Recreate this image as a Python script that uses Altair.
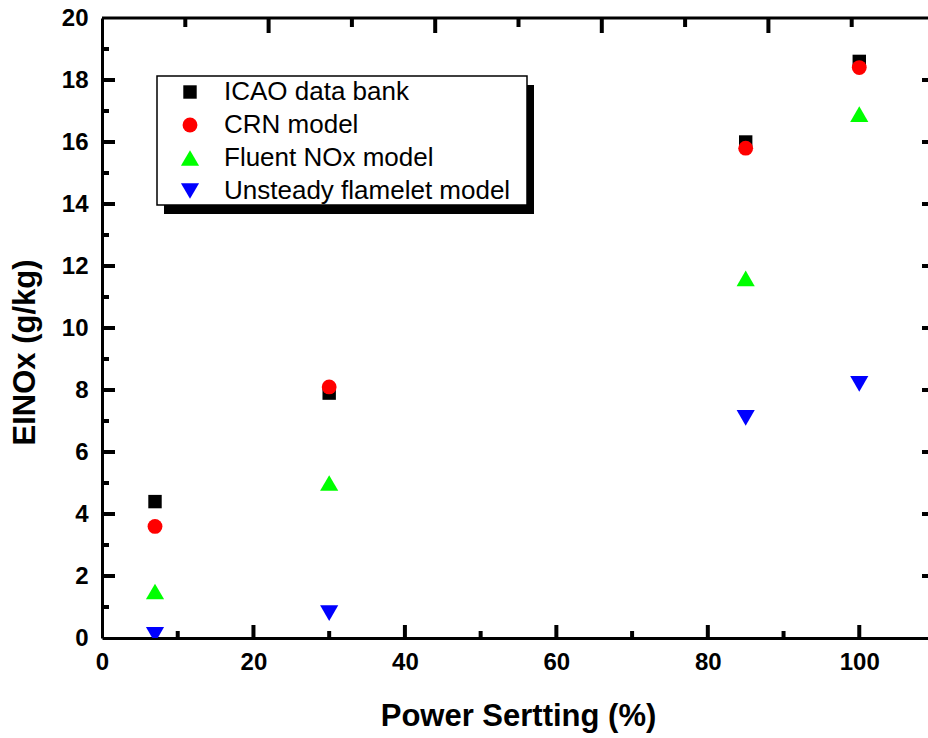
import altair as alt
import pandas as pd

# ---- data ----
power = [7, 30, 85, 100]
icao = [4.4, 7.9, 16.0, 18.6]
crn = [3.6, 8.1, 15.8, 18.4]
fluent = [1.5, 5.0, 11.6, 16.9]
unsteady = [0.1, 0.8, 7.1, 8.2]

series_names = ["ICAO data bank", "CRN model", "Fluent NOx model", "Unsteady flamelet model"]
series_colors = ["#000000", "#ff0000", "#00ff00", "#0000ff"]
series_shapes = ["square", "circle", "triangle-up", "triangle-down"]
series_sizes = [180, 220, 330, 330]

x_labels = [0, 20, 40, 60, 80, 100]
y_labels = [0, 2, 4, 6, 8, 10, 12, 14, 16, 18, 20]
x_major = [20, 40, 60, 80, 100]
x_minor = [10, 30, 50, 70, 90]
top_major = [22, 44, 66, 88]
top_minor = [11, 33, 55, 77, 99]
y_major = [2, 4, 6, 8, 10, 12, 14, 16, 18]
y_minor = [1, 3, 5, 7, 9, 11, 13, 15, 17, 19]

rows = []
for name, vals in zip(series_names, [icao, crn, fluent, unsteady]):
    for p, v in zip(power, vals):
        rows.append({"power": p, "einox": v, "series": name})
df = pd.DataFrame(rows)

FONT = "Liberation Sans"
W_FULL = 833  # pixel length of the 0..110 x range (runs past the window)
H = 620

xscale = alt.Scale(domain=[0, 110], range=[0, W_FULL], nice=False, zero=False)
yscale = alt.Scale(domain=[0, 20], nice=False, zero=False)

xaxis = alt.Axis(
    values=x_labels, format="d", ticks=False, grid=False,
    domainColor="black", domainWidth=3,
    labelFont=FONT, labelFontWeight="bold", labelFontSize=24, labelColor="black",
    labelPadding=12, labelFlush=False, labelOverlap=False,
    title="Power Sertting (%)", titleFont=FONT, titleFontWeight="bold",
    titleFontSize=31, titleColor="black", titleX=416, titleY=87,
    titleBaseline="alphabetic",
)
yaxis = alt.Axis(
    values=y_labels, format="d", ticks=False, grid=False,
    domainColor="black", domainWidth=3,
    labelFont=FONT, labelFontWeight="bold", labelFontSize=24, labelColor="black",
    labelPadding=14, labelFlush=False, labelOverlap=False,
    title="EINOx (g/kg)", titleFont=FONT, titleFontWeight="bold",
    titleFontSize=31, titleColor="black", titleX=-68, titleY=334,
    titleAngle=270, titleBaseline="alphabetic",
)


def X():
    return alt.X("power:Q", scale=xscale, axis=xaxis)


def Y():
    return alt.Y("einox:Q", scale=yscale, axis=yaxis)


legend = alt.Legend(
    orient="none", legendX=75, legendY=61, title=None,
    labelFont=FONT, labelFontSize=26, labelColor="black", labelLimit=500,
    labelOffset=21, rowPadding=7, padding=0, symbolStrokeWidth=0,
)

points = alt.Chart(df).mark_point(filled=True, opacity=1, strokeWidth=0, clip=True).encode(
    x=X(), y=Y(),
    color=alt.Color("series:N", scale=alt.Scale(domain=series_names, range=series_colors), legend=legend),
    shape=alt.Shape("series:N", scale=alt.Scale(domain=series_names, range=series_shapes), legend=legend),
    size=alt.Size("series:N", scale=alt.Scale(type="ordinal", domain=series_names, range=series_sizes), legend=legend),
)

TW = 4     # tick thickness
MAJ = 13   # major tick length
MIN = 7    # minor tick length


def xticks(vals, center, length):
    return alt.Chart(pd.DataFrame({"power": vals})).mark_tick(
        color="black", opacity=1, thickness=TW, size=length, orient="vertical"
    ).encode(x=X(), y=alt.value(center))


def yticks(vals, center, length):
    return alt.Chart(pd.DataFrame({"einox": vals})).mark_tick(
        color="black", opacity=1, thickness=TW, size=length, orient="horizontal"
    ).encode(y=Y(), x=alt.value(center))


tick_layers = [
    xticks(x_major, H - MAJ / 2, MAJ),
    xticks(x_minor, H - MIN / 2, MIN),
    xticks(top_major, MAJ / 2 + 1, MAJ + 2),
    xticks(top_minor, MIN / 2 + 1, MIN + 2),
    yticks(y_major, MAJ / 2, MAJ),
    yticks(y_minor, MIN / 2, MIN),
    yticks(y_major, W_FULL - MAJ / 2, MAJ),
    yticks(y_minor, W_FULL - MIN / 2, MIN),
]

top_line = alt.Chart(pd.DataFrame({"a": [0]})).mark_rule(color="black", strokeWidth=3).encode(
    x=alt.value(0), x2=alt.value(W_FULL), y=alt.value(0))

shadow = alt.Chart(pd.DataFrame({"a": [0]})).mark_rect(color="black").encode(
    x=alt.value(62), x2=alt.value(432), y=alt.value(67), y2=alt.value(196))
box = alt.Chart(pd.DataFrame({"a": [0]})).mark_rect(fill="white", stroke="black", strokeWidth=1.5).encode(
    x=alt.value(55), x2=alt.value(425), y=alt.value(58), y2=alt.value(187))

chart = alt.layer(
    *tick_layers, top_line, shadow, box, points
).properties(
    width=826, height=H,
    autosize=alt.AutoSizeParams(type="none"),
    padding={"left": 102, "top": 18, "right": 0, "bottom": 100},
    background="white",
).configure_view(stroke=None)

chart.save("out.html", embed_options={"renderer": "svg", "actions": False})
